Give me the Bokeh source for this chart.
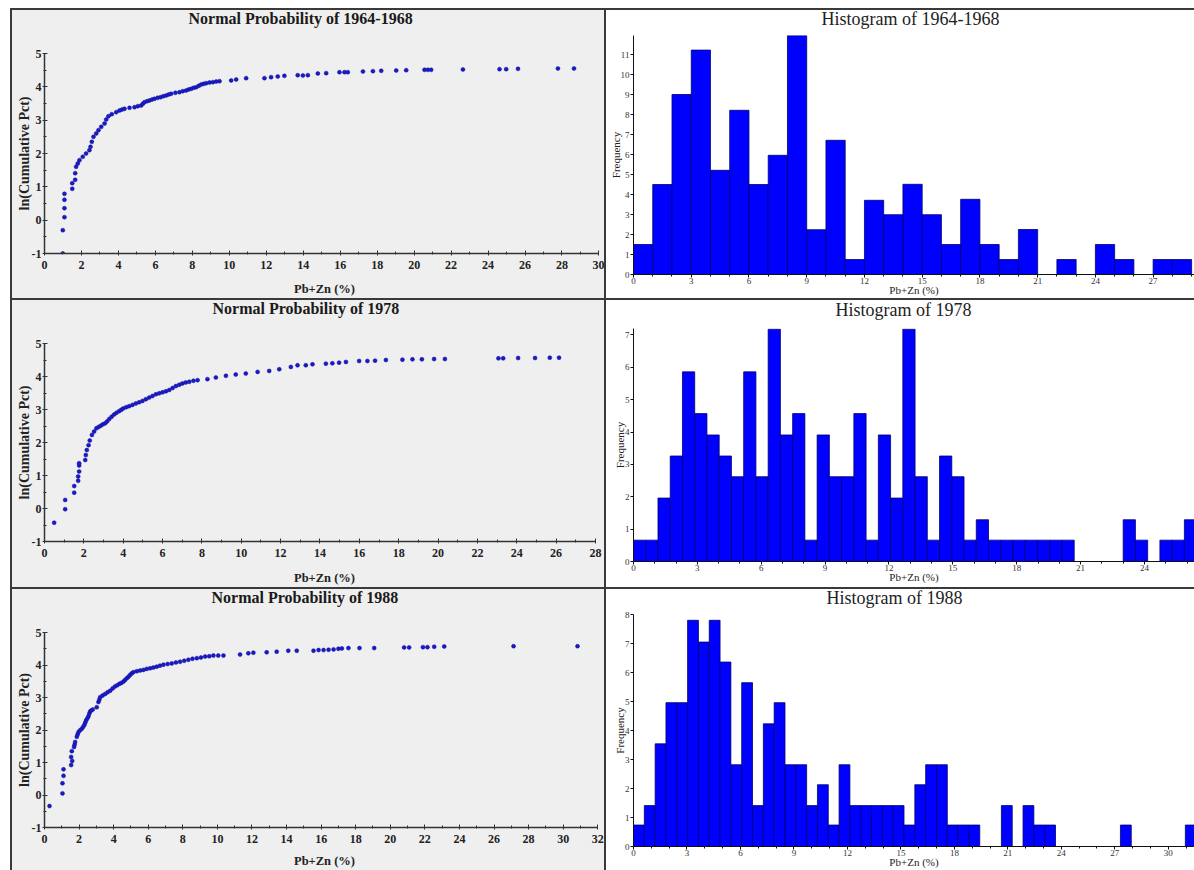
from bokeh.plotting import figure
from bokeh.layouts import row, column
from bokeh.models import Title, SingleIntervalTicker, Range1d, Spacer
from bokeh.embed import file_html
from bokeh.resources import INLINE

# ---------------- data ----------------
titles_prob = ["Normal Probability of 1964-1968", "Normal Probability of 1978", "Normal Probability of 1988"]
titles_hist = ["Histogram of 1964-1968", "Histogram of 1978", "Histogram of 1988"]
x_label = "Pb+Zn (%)"
y_label_prob = "ln(Cumulative Pct)"
y_label_hist = "Frequency"

# 1964-1968 normal probability points: Pb+Zn (%) and ln(cumulative pct)
pb_1964 = [0.99, 0.99, 1.08, 1.08, 1.08, 1.08, 1.50, 1.50, 1.66, 1.66, 1.71, 1.80, 1.89, 2.07, 2.25,
           2.43, 2.49, 2.56, 2.65, 2.80, 2.92, 3.07, 3.25, 3.34, 3.46, 3.64, 3.88, 4.06, 4.20, 4.33,
           4.60, 4.87, 5.05, 5.23, 5.32, 5.41, 5.55, 5.68, 5.82, 5.95, 6.12, 6.28, 6.43, 6.58, 6.72,
           6.85, 7.08, 7.30, 7.48, 7.66, 7.80, 7.94, 8.08, 8.21, 8.35, 8.48, 8.62, 8.75, 8.93, 9.11,
           9.29, 9.47, 10.10, 10.37, 10.91, 11.90, 12.26, 12.62, 12.98, 13.70, 13.98, 14.25, 14.79,
           15.24, 15.96, 16.23, 16.41, 17.23, 17.77, 18.22, 19.03, 19.57, 20.56, 20.74, 20.92, 22.64,
           24.62, 24.98, 25.62, 27.78, 28.65]
ln_1964 = [-1.00, -0.30, 0.09, 0.36, 0.61, 0.79, 0.94, 1.11, 1.21, 1.41, 1.60, 1.70, 1.80, 1.90, 2.00,
           2.10, 2.20, 2.35, 2.50, 2.60, 2.70, 2.80, 2.90, 3.02, 3.12, 3.18, 3.24, 3.29, 3.32, 3.34,
           3.37, 3.39, 3.42, 3.44, 3.49, 3.54, 3.57, 3.59, 3.62, 3.64, 3.67, 3.69, 3.72, 3.74, 3.77,
           3.79, 3.82, 3.84, 3.87, 3.89, 3.92, 3.94, 3.97, 3.99, 4.03, 4.07, 4.09, 4.11, 4.13, 4.14,
           4.16, 4.17, 4.19, 4.22, 4.26, 4.26, 4.29, 4.31, 4.33, 4.35, 4.34, 4.35, 4.40,
           4.41, 4.44, 4.44, 4.44, 4.46, 4.47, 4.48, 4.49, 4.50, 4.51, 4.51, 4.51, 4.52,
           4.53, 4.53, 4.54, 4.55, 4.55]

# 1978 normal probability points
pb_1978 = [0.49, 1.05, 1.05, 1.51, 1.51, 1.71, 1.71, 1.76, 1.76, 1.76, 2.07, 2.10, 2.15, 2.24, 2.30,
           2.41, 2.52, 2.64, 2.75, 2.86, 2.97, 3.08, 3.18, 3.29, 3.41, 3.54, 3.66, 3.79, 3.90, 4.00,
           4.15, 4.30, 4.47, 4.64, 4.81, 4.98, 5.15, 5.32, 5.49, 5.66, 5.83, 6.00, 6.17, 6.34, 6.51,
           6.68, 6.85, 7.01, 7.18, 7.36, 7.57, 7.78, 8.28, 8.71, 9.22, 9.72, 10.23, 10.83, 11.42,
           11.93, 12.52, 12.86, 13.28, 13.62, 14.30, 14.63, 14.97, 15.32, 15.99, 16.41, 16.80, 17.35,
           18.19, 18.70, 19.18, 19.80, 20.35, 23.07, 23.31, 24.07, 24.93, 25.68, 26.15]
ln_1978 = [-0.43, -0.02, 0.26, 0.48, 0.68, 0.84, 0.97, 1.12, 1.30, 1.37, 1.47, 1.62, 1.77, 1.92, 2.06,
           2.23, 2.33, 2.43, 2.47, 2.51, 2.55, 2.58, 2.64, 2.71, 2.78, 2.85, 2.90, 2.95, 2.99, 3.03,
           3.07, 3.10, 3.14, 3.18, 3.22, 3.26, 3.31, 3.36, 3.41, 3.46, 3.49, 3.52, 3.55, 3.59, 3.65,
           3.71, 3.75, 3.79, 3.82, 3.84, 3.87, 3.89, 3.92, 3.97, 4.02, 4.06, 4.09, 4.14, 4.17,
           4.22, 4.29, 4.34, 4.34, 4.37, 4.39, 4.40, 4.42, 4.44, 4.47, 4.47, 4.48, 4.50,
           4.51, 4.52, 4.52, 4.53, 4.53, 4.55, 4.55, 4.56, 4.56, 4.57, 4.57]

# 1988 normal probability points
pb_1988 = [0.29, 1.04, 1.04, 1.10, 1.10, 1.54, 1.54, 1.58, 1.60, 1.71, 1.74, 1.77, 1.87, 1.92, 1.97,
           2.06, 2.16, 2.24, 2.31, 2.36, 2.41, 2.48, 2.54, 2.59, 2.64, 2.70, 2.79, 3.02, 3.12, 3.17,
           3.22, 3.36, 3.51, 3.65, 3.80, 3.94, 4.08, 4.21, 4.34, 4.45, 4.57, 4.66, 4.76, 4.86, 4.95,
           5.04, 5.14, 5.34, 5.53, 5.72, 5.91, 6.11, 6.30, 6.49, 6.68, 6.88, 7.12, 7.36, 7.60, 7.84,
           8.08, 8.32, 8.56, 8.81, 9.05, 9.29, 9.53, 9.77, 10.05, 10.35, 11.31, 11.79, 12.08, 12.85,
           13.43, 14.10, 14.59, 15.56, 15.85, 16.14, 16.43, 16.72, 17.00, 17.20, 17.58, 18.22, 19.07,
           20.80, 21.09, 21.89, 22.15, 22.54, 23.12, 27.13, 30.83]
ln_1988 = [-0.34, 0.05, 0.36, 0.59, 0.79, 0.92, 1.17, 1.35, 1.05, 1.48, 1.55, 1.63, 1.79, 1.87, 1.94,
           1.99, 2.04, 2.10, 2.16, 2.23, 2.30, 2.36, 2.42, 2.50, 2.57, 2.60, 2.63, 2.70, 2.86, 2.93,
           3.01, 3.06, 3.11, 3.16, 3.21, 3.28, 3.34, 3.38, 3.42, 3.45, 3.49, 3.54, 3.59, 3.64, 3.69,
           3.74, 3.78, 3.81, 3.83, 3.85, 3.88, 3.90, 3.92, 3.95, 3.98, 4.01, 4.03, 4.05, 4.08, 4.10,
           4.13, 4.16, 4.19, 4.21, 4.23, 4.26, 4.27, 4.29, 4.29, 4.29, 4.32, 4.36, 4.38, 4.39,
           4.41, 4.44, 4.44, 4.44, 4.46, 4.46, 4.47, 4.48, 4.50, 4.51, 4.52, 4.52, 4.52,
           4.54, 4.54, 4.55, 4.55, 4.56, 4.57, 4.58, 4.58]

# histograms: bin width and frequencies (bins start at 0)
bin_w_1964 = 1.0
freq_1964 = [1.50, 4.50, 9.00, 11.22, 5.21, 8.21, 4.50, 5.96, 11.95, 2.24, 6.71, 0.75, 3.71, 2.99, 4.51,
             2.99, 1.50, 3.76, 1.50, 0.75, 2.25, 0, 0.75, 0, 1.50, 0.75, 0, 0.75, 0.75]
bin_w_1978 = 0.575
freq_1978 = [0.66, 0.66, 1.96, 3.26, 5.86, 4.57, 3.91, 3.26, 2.62, 5.86, 2.62, 7.18, 3.91, 4.57, 0.66,
             3.91, 2.62, 2.62, 4.57, 0.66, 3.91, 1.96, 7.18, 2.62, 0.66, 3.26, 2.62, 0.66, 1.29, 0.66,
             0.66, 0.66, 0.66, 0.66, 0.66, 0.66, 0, 0, 0, 0, 1.29, 0.66, 0, 0.66, 0.66, 1.29]
bin_w_1988 = 0.607
freq_1988 = [0.74, 1.41, 3.54, 4.96, 4.96, 7.80, 7.05, 7.80, 6.36, 2.82, 5.65, 1.41, 4.23, 4.96, 2.82,
             2.82, 1.41, 2.13, 0.74, 2.82, 1.41, 1.41, 1.41, 1.41, 1.41, 0.74, 2.13, 2.82, 2.82, 0.74,
             0.74, 0.74, 0, 0, 1.41, 0, 1.41, 0.74, 0.74, 0, 0, 0, 0, 0, 0, 0.74, 0, 0, 0, 0, 0, 0.74]

# ---------------- styling ----------------
SERIF = "Liberation Serif"
GRAY_BG = "#efefef"
DOT = "#1a1ac8"


def add_title(p, text, offset, size, bold, spacer, lift):
    # spacer keeps the title band height; a negative standoff lifts the text within its band
    p.add_layout(Title(text="\u00a0", text_font_size="1px", standoff=spacer,
                       border_line_color=None, background_fill_color=None), "above")
    p.add_layout(Title(text=text, align="left", offset=offset, vertical_align="top", standoff=-lift,
                       text_font=SERIF, text_font_size=size,
                       text_font_style="bold" if bold else "normal",
                       text_color="#1a1a1a" if bold else "#222222",
                       border_line_color=None, background_fill_color=None), "above")


def no_outline(p, bg):
    p.outline_line_color = bg
    p.outline_line_alpha = 0
    p.grid.visible = False
    # the element behind the canvas gets the panel colour, so no seam shows at the frame edge
    p.styles = {"background-color": bg}


def prob_panel(xs, ys, title, h, fb, x_end, x_max, t_off, xl_standoff):
    p = figure(width=592, height=h, x_range=Range1d(0, x_end), y_range=Range1d(-1, 5),
               output_backend="svg", toolbar_location=None,
               min_border_left=32, min_border_bottom=fb, min_border_top=43, min_border_right=0,
               background_fill_color=GRAY_BG, border_fill_color=GRAY_BG)
    no_outline(p, GRAY_BG)
    xa, ya = p.xaxis[0], p.yaxis[0]
    xa.ticker = SingleIntervalTicker(interval=2, num_minor_ticks=2)
    ya.ticker = SingleIntervalTicker(interval=1, num_minor_ticks=2)
    xa.bounds = (0, x_max)
    for ax in (xa, ya):
        ax.axis_line_color = "#333333"
        ax.axis_line_width = 1.5
        ax.major_tick_line_color = "#333333"
        ax.minor_tick_line_color = "#333333"
        ax.major_tick_in = 3
        ax.major_tick_out = 2
        ax.minor_tick_in = 2
        ax.minor_tick_out = 1
        ax.major_label_text_font = SERIF
        ax.major_label_text_font_style = "bold"
        ax.major_label_text_font_size = "12px"
        ax.major_label_text_color = "#222222"
        ax.axis_label_text_font = SERIF
        ax.axis_label_text_font_style = "bold"
        ax.axis_label_text_color = "#222222"
    xa.axis_label = x_label
    xa.axis_label_text_font_size = "12.5px"
    xa.major_label_standoff = 5
    xa.axis_label_standoff = xl_standoff
    ya.axis_label = y_label_prob
    ya.axis_label_text_font_size = "14px"
    ya.major_label_standoff = 1
    ya.axis_label_standoff = -3
    ya.major_label_overrides = {-1: "-1"}
    p.scatter(xs, ys, size=4, color=DOT, line_color="#10109a", line_width=0.5)
    add_title(p, title, t_off, "16px", True, 27, 10)
    return p


def hist_panel(freq, bw, title, h, fb, ft, x_end, y_top, t_off, spacer, lift):
    p = figure(width=588, height=h, x_range=Range1d(0, x_end), y_range=Range1d(0, y_top),
               output_backend="svg", toolbar_location=None,
               min_border_left=26, min_border_bottom=fb, min_border_top=ft, min_border_right=0,
               background_fill_color="white", border_fill_color="white")
    no_outline(p, "white")
    lefts = [i * bw for i, f in enumerate(freq) if f > 0]
    rights = [(i + 1) * bw for i, f in enumerate(freq) if f > 0]
    tops = [f for f in freq if f > 0]
    p.quad(left=lefts, right=rights, top=tops, bottom=0, fill_color="#0000ff",
           line_color="#000070", line_width=0.8)
    xa, ya = p.xaxis[0], p.yaxis[0]
    xa.ticker = SingleIntervalTicker(interval=3, num_minor_ticks=3)
    ya.ticker = SingleIntervalTicker(interval=1, num_minor_ticks=0)
    for ax in (xa, ya):
        ax.axis_line_color = "#111111"
        ax.axis_line_width = 1
        ax.major_tick_line_color = "#111111"
        ax.minor_tick_line_color = "#111111"
        ax.major_tick_in = 0
        ax.major_tick_out = 3
        ax.minor_tick_in = 0
        ax.minor_tick_out = 2
        ax.major_label_text_font = SERIF
        ax.major_label_text_font_size = "9px"
        ax.major_label_text_color = "#333333"
        ax.axis_label_text_font = SERIF
        ax.axis_label_text_font_style = "normal"
        ax.axis_label_text_font_size = "11px"
        ax.axis_label_text_color = "#222222"
    xa.axis_label = x_label
    xa.major_label_standoff = 0
    xa.axis_label_standoff = -3
    ya.axis_label = y_label_hist
    ya.major_label_standoff = 1
    ya.axis_label_standoff = -4
    add_title(p, title, t_off, "18px", False, spacer, lift)
    return p


L1 = prob_panel(pb_1964, ln_1964, titles_prob[0], 288, 44, 30.30, 30, 144, 10)
L2 = prob_panel(pb_1978, ln_1978, titles_prob[1], 287, 45, 28.46, 28, 168, 11)
L3 = prob_panel(pb_1988, ln_1988, titles_prob[2], 281, 42, 32.39, 32, 167, 8)
R1 = hist_panel(freq_1964, bin_w_1964, titles_hist[0], 288, 24, 25, 29.15, 11.95, 188, 7, 10)
R2 = hist_panel(freq_1978, bin_w_1978, titles_hist[1], 287, 26, 28, 26.35, 7.2, 202, 8, 8)
R3 = hist_panel(freq_1988, bin_w_1988, titles_hist[2], 281, 24, 25, 31.47, 8.0, 193, 7, 10)

col_left = column(Spacer(width=0, height=0), L1, L2, L3, spacing=2)
col_right = column(Spacer(width=0, height=0), R1, R2, R3, spacing=2)
grid = row(Spacer(width=0, height=0), col_left, col_right, spacing=2,
           styles={"background-color": "#3a3a3a"})
page = column(Spacer(width=1184, height=8), row(Spacer(width=10, height=0), grid, spacing=0), spacing=0)

open("out.html", "w").write(file_html(page, INLINE))
